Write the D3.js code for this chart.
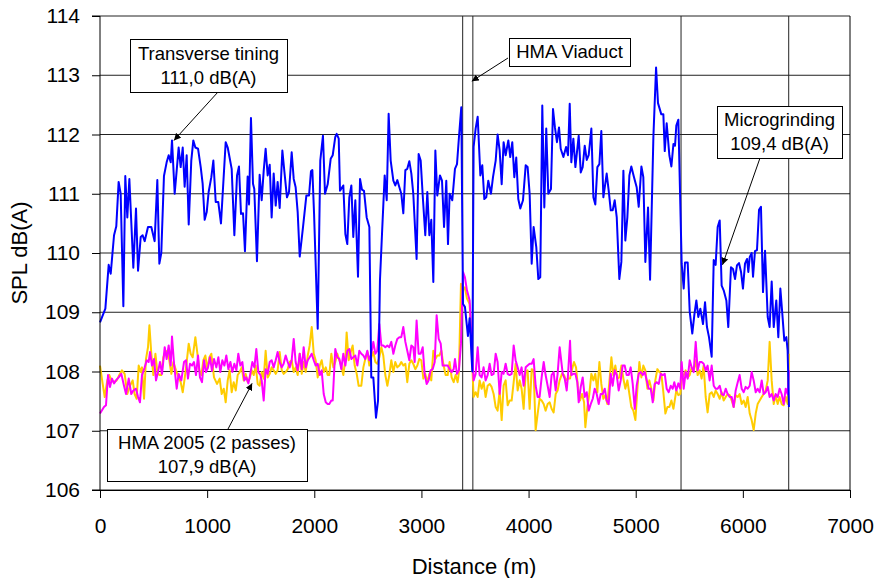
<!DOCTYPE html>
<html>
<head>
<meta charset="utf-8">
<script src="https://cdn.jsdelivr.net/npm/d3@7"></script>
<style>
  body { margin: 0; background: #fff; }
  svg text { font-family: "Liberation Sans", Arial, sans-serif; fill: #000; }
</style>
</head>
<body>
<div id="chart"></div>
<script>
// SPL along the road, [distance (m), dB(A)]
var transverseTining = [
  [0,108.83],[50,109.06],[81,109.8],[100,109.65],[131,110.3],[152,110.45],[174,111.2],[193,111.0],[218,109.1],[236,111.3],[255,110.6],[274,111.25],[311,109.75],[336,110.75],[355,109.7],[380,110.27],[398,110.3],[417,110.2],[448,110.44],[479,110.44],[510,110.2],[535,111.23],[554,109.82],[572,110.0],[597,111.3],[622,111.53],[641,111.65],[660,111.53],[672,111.9],[697,111.0],[716,111.4],[734,111.78],[753,111.45],[772,111.78],[790,111.12],[809,111.65],[828,110.48],[852,111.56],[871,111.9],[890,111.78],[915,111.76],[940,111.45],[958,111.17],[977,110.56],[996,110.69],[1014,111.03],[1039,111.28],[1058,111.56],
  [1080,110.86],[1104,110.86],[1129,110.5],[1173,111.87],[1192,111.78],[1229,111.42],[1254,110.3],[1279,111.31],[1297,111.46],[1316,110.66],[1335,110.67],[1353,110.03],[1378,111.29],[1391,110.82],[1409,112.28],[1428,111.17],[1440,111.08],[1465,109.86],[1490,111.32],[1509,110.89],[1528,111.39],[1546,111.76],[1565,111.31],[1584,111.49],[1602,110.6],[1621,111.34],[1640,110.8],[1658,111.2],[1677,110.76],[1702,111.73],[1720,111.39],[1745,110.94],[1764,111.03],[1789,111.7],[1808,111.25],[1826,111.11],[1845,110.69],[1864,109.94],[1895,110.44],[1926,110.97],[1951,110.97],[1969,111.38],[1982,111.4],[1998,110.66],[2032,108.72],[2056,111.56],[2081,111.98],[2100,111.0],[2125,111.16],
  [2153,111.59],[2172,111.65],[2196,111.96],[2209,112.01],[2228,111.93],[2240,111.05],[2271,111.14],[2290,110.32],[2308,110.15],[2327,110.94],[2346,111.14],[2364,110.27],[2383,110.89],[2408,109.6],[2427,111.25],[2445,111.07],[2464,111.05],[2489,110.6],[2514,110.44],[2532,107.9],[2551,107.9],[2576,107.22],[2595,107.51],[2613,109.54],[2632,110.32],[2657,111.31],[2676,110.89],[2694,112.35],[2713,111.56],[2738,111.22],[2756,111.14],[2775,111.23],[2794,111.11],[2812,111.0],[2831,110.67],[2850,111.4],[2868,111.42],[2887,111.55],[2906,111.34],[2924,111.0],[2955,109.9],[2974,111.67],[2993,111.56],[3012,110.97],[3036,110.3],[3055,111.03],[3074,110.3],[3092,110.56],[3111,109.51],[3130,111.73],[3148,110.97],[3173,111.31],[3192,111.22],[3211,110.44],
  [3232,111.22],[3248,110.15],[3263,111.0],[3288,110.89],[3313,111.42],[3332,111.5],[3350,111.95],[3372,112.46],[3388,109.14],[3406,109.09],[3434,108.6],[3450,108.9],[3475,108.0],[3487,111.79],[3506,112.1],[3525,112.3],[3550,111.31],[3568,111.48],[3587,110.91],[3605,110.94],[3624,111.22],[3649,111.0],[3668,111.28],[3693,111.56],[3711,112.0],[3730,111.73],[3749,111.16],[3767,111.87],[3786,111.65],[3811,111.9],[3829,111.62],[3848,111.87],[3867,111.28],[3885,111.61],[3904,110.91],[3923,110.75],[3948,110.89],[3973,111.48],[3991,111.45],[4010,111.0],[4029,109.82],[4047,110.44],[4072,110.1],[4091,109.56],[4109,109.59],[4128,112.49],[4147,110.77],[4165,112.1],[4184,111.0],[4209,111.08],[4228,112.43],[4246,112.12],[4265,111.87],[4284,112.12],
  [4300,111.76],[4325,111.62],[4350,111.79],[4368,111.65],[4384,112.52],[4399,111.53],[4418,111.93],[4437,111.45],[4468,111.98],[4487,111.36],[4505,111.45],[4524,111.81],[4543,111.57],[4561,111.65],[4586,112.1],[4605,110.94],[4623,110.82],[4642,111.45],[4661,111.5],[4679,112.06],[4698,110.94],[4729,111.34],[4748,111.05],[4767,110.72],[4785,110.72],[4804,110.89],[4823,110.6],[4847,109.56],[4866,109.85],[4885,111.39],[4903,110.21],[4922,110.6],[4941,111.31],[4959,111.46],[4984,111.28],[5009,111.11],[5028,110.78],[5053,111.46],[5071,111.28],[5090,109.85],[5115,110.77],[5134,109.55],[5165,111.96],[5190,113.13],[5208,112.53],[5239,112.34],[5258,112.34],[5271,111.72],[5289,112.19],[5314,111.65],[5333,111.46],[5352,111.84],
  [5367,111.81],[5379,112.15],[5398,112.25],[5429,109.82],[5448,109.4],[5460,109.84],[5485,109.84],[5504,109.01],[5528,108.64],[5547,108.95],[5566,109.2],[5584,108.92],[5603,109.06],[5628,108.8],[5647,109.17],[5665,108.75],[5684,108.58],[5709,108.25],[5728,109.88],[5746,109.8],[5765,110.44],[5784,110.55],[5802,109.45],[5821,109.37],[5846,109.2],[5864,108.75],[5889,109.76],[5908,109.73],[5927,109.56],[5945,109.79],[5964,109.83],[5983,109.68],[6001,109.4],[6020,109.82],[6039,109.9],[6051,109.68],[6064,109.93],[6082,110.0],[6095,109.6],[6113,110.03],[6132,110.05],[6151,110.73],[6169,110.78],[6188,109.34],[6207,110.04],[6232,108.92],[6250,108.75],[6269,109.52],[6288,108.75],[6312,109.2],[6331,108.58],[6350,109.4],[6368,108.98],[6387,108.52],[6406,108.58],[6418,108.35],[6430,107.4]
];

var hmaMagenta = [
  [0,107.29],[37,107.4],[56,107.43],[75,107.94],[93,107.74],[112,107.88],[131,107.8],[149,107.85],[174,107.9],[199,107.96],[224,107.76],[243,107.62],[268,107.88],[292,107.62],[311,107.68],[336,107.71],[355,107.57],[373,107.48],[392,107.94],[417,108.07],[436,108.19],[454,108.16],[467,108.33],[485,108.1],[504,108.21],[523,107.85],[541,107.99],[560,108.16],[579,107.96],[604,108.41],[622,108.21],[641,108.44],[660,108.1],[672,108.59],[691,108.13],[716,107.71],[734,107.96],[759,107.85],[784,108.16],[803,108.19],[821,107.88],[840,108.13],[859,108.1],[877,108.16],[896,107.94],[915,108.27],[933,107.9],[952,107.82],[971,108.19],[989,107.99],[1008,108.07],[1027,108.24],[1045,108.01],[1064,108.21],
  [1086,108.07],[1105,108.24],[1123,107.99],[1142,108.19],[1161,108.1],[1179,108.27],[1198,108.04],[1217,108.16],[1235,107.99],[1254,108.13],[1273,108.02],[1291,108.3],[1310,108.1],[1329,108.16],[1347,107.85],[1366,107.9],[1385,107.8],[1403,107.96],[1422,108.16],[1441,108.07],[1459,108.38],[1478,107.99],[1497,107.94],[1509,107.85],[1528,107.51],[1546,108.04],[1565,107.96],[1584,108.16],[1602,108.19],[1621,108.07],[1640,108.19],[1658,108.33],[1677,108.16],[1696,108.07],[1714,108.13],[1733,108.27],[1752,108.16],[1770,108.07],[1789,108.19],[1808,108.55],[1826,108.16],[1845,108.02],[1864,108.3],[1883,108.04],[1901,108.41],[1920,108.07],[1939,108.19],[1957,108.24],[1976,108.3],[1995,108.19],[2013,108.1],[2032,108.13],[2051,107.94],[2069,108.02],[2088,107.62],[2107,107.48],[2125,107.45],
  [2140,107.45],[2159,107.51],[2172,107.51],[2196,108.38],[2215,108.24],[2234,108.21],[2252,108.04],[2271,108.3],[2290,108.1],[2308,108.35],[2327,108.38],[2346,108.21],[2364,108.24],[2383,108.27],[2402,108.1],[2420,108.35],[2439,108.3],[2458,108.27],[2476,108.21],[2495,108.35],[2514,108.19],[2532,108.3],[2551,108.5],[2570,108.3],[2588,108.35],[2607,108.8],[2626,108.44],[2644,108.44],[2663,108.41],[2682,108.44],[2700,108.41],[2719,108.5],[2738,108.3],[2756,108.44],[2775,108.55],[2794,108.58],[2812,108.58],[2831,108.75],[2850,108.5],[2868,108.35],[2887,108.19],[2906,108.44],[2924,108.41],[2937,108.16],[2955,108.86],[2974,108.3],[2993,108.3],[3012,108.41],[3030,107.96],[3049,107.79],[3067,107.85],[3086,108.02],[3105,108.04],[3124,108.16],[3142,108.95],[3161,108.55],[3180,108.47],[3198,108.1],
  [3226,108.1],[3245,108.1],[3263,108.04],[3282,107.99],[3301,108.04],[3313,108.21],[3332,107.96],[3350,108.02],[3369,108.47],[3388,109.68],[3406,109.59],[3425,109.37],[3450,109.2],[3469,108.47],[3487,107.85],[3506,107.96],[3525,108.41],[3543,107.94],[3562,107.9],[3580,108.07],[3599,107.85],[3618,107.94],[3637,108.13],[3655,107.94],[3674,107.96],[3693,108.3],[3711,108.16],[3730,107.62],[3749,107.99],[3767,107.96],[3786,108.13],[3805,107.96],[3823,107.94],[3842,107.96],[3861,108.44],[3879,108.19],[3898,108.07],[3917,107.94],[3935,108.07],[3954,107.76],[3973,108.07],[3991,108.1],[4010,108.13],[4029,108.13],[4047,108.21],[4066,107.76],[4085,107.57],[4103,107.57],[4122,107.9],[4141,108.16],[4159,107.94],[4178,107.76],[4197,107.57],[4215,107.94],[4234,107.99],[4253,107.68],[4271,107.96],[4290,108.41],
  [4319,107.96],[4337,107.88],[4356,107.68],[4368,107.94],[4387,108.52],[4399,107.94],[4418,107.96],[4437,107.96],[4455,107.82],[4468,107.48],[4487,107.74],[4505,107.9],[4524,107.57],[4543,107.65],[4561,107.34],[4580,107.45],[4599,107.54],[4617,107.71],[4636,107.62],[4655,107.45],[4673,107.62],[4692,107.62],[4711,107.71],[4729,107.51],[4748,107.45],[4767,107.96],[4785,107.76],[4804,108.02],[4823,107.94],[4841,107.68],[4860,107.85],[4878,108.1],[4897,108.1],[4916,107.94],[4935,107.94],[4953,108.07],[4972,107.79],[4991,107.37],[5009,107.76],[5028,107.96],[5047,107.99],[5065,107.94],[5084,107.99],[5103,107.85],[5121,107.71],[5140,107.71],[5159,107.48],[5177,107.79],[5196,107.82],[5215,107.79],[5233,107.96],[5252,107.94],[5271,107.96],[5289,107.71],[5308,107.65],[5327,107.76],[5345,107.71],
  [5360,107.82],[5379,107.68],[5398,107.8],[5416,107.71],[5429,108.16],[5448,107.71],[5466,107.99],[5485,107.88],[5504,108.19],[5522,108.07],[5541,107.99],[5560,108.5],[5578,108.02],[5597,108.16],[5615,108.16],[5634,108.13],[5653,108.02],[5671,108.1],[5690,107.85],[5709,108.1],[5728,107.76],[5746,107.71],[5765,107.71],[5784,107.76],[5802,107.62],[5821,107.6],[5840,107.71],[5858,107.62],[5877,107.57],[5896,107.57],[5914,107.4],[5933,107.68],[5952,107.82],[5970,107.94],[5989,107.71],[6008,107.65],[6026,107.74],[6045,107.71],[6064,107.76],[6082,107.99],[6101,107.85],[6120,107.65],[6138,107.71],[6157,107.65],[6176,107.85],[6194,107.62],[6213,107.65],[6232,107.74],[6250,107.57],[6269,107.62],[6288,107.51],[6306,107.62],[6325,107.57],[6343,107.71],[6362,107.62],[6381,107.45],[6400,107.71],[6418,107.62],[6430,108.02]
];

var hmaYellow = [
  [0,108.1],[25,107.79],[44,107.57],[68,107.85],[87,107.94],[106,107.85],[131,107.82],[156,107.85],[180,107.94],[205,108.02],[230,107.96],[255,107.62],[280,107.76],[305,107.85],[323,107.62],[342,107.54],[361,108.1],[380,107.99],[392,108.07],[411,107.54],[429,108.21],[448,108.41],[461,108.78],[479,108.3],[498,107.94],[517,108.3],[535,107.99],[554,107.94],[572,107.94],[591,108.24],[610,108.33],[629,108.35],[647,108.19],[666,107.96],[685,108.16],[709,108.02],[734,107.9],[753,107.82],[772,107.65],[790,107.88],[809,108.16],[828,108.47],[846,108.3],[865,108.24],[890,108.58],[909,108.3],[927,108.02],[946,107.94],[965,108.19],[983,108.27],[1002,108.04],[1021,108.24],[1039,108.3],[1064,107.9],
  [1092,107.79],[1117,107.88],[1136,107.62],[1155,107.71],[1173,107.48],[1192,107.85],[1210,108.02],[1229,107.65],[1248,107.82],[1267,107.68],[1285,107.94],[1304,107.99],[1323,108.07],[1341,107.85],[1360,107.96],[1379,107.82],[1397,107.88],[1416,108.02],[1435,107.94],[1453,108.1],[1472,107.79],[1490,107.76],[1509,107.99],[1528,107.88],[1546,108.35],[1565,107.9],[1584,107.96],[1602,108.07],[1621,108.02],[1640,107.96],[1658,108.02],[1677,108.33],[1696,108.02],[1714,107.96],[1733,107.99],[1752,108.04],[1770,108.16],[1789,108.19],[1808,107.99],[1826,108.07],[1845,107.94],[1864,108.3],[1883,107.96],[1901,108.16],[1920,107.99],[1939,108.27],[1957,108.44],[1976,108.75],[1995,108.3],[2013,108.19],[2032,107.9],[2051,108.1],[2069,108.19],[2088,107.99],[2107,108.07],[2125,107.94],
  [2140,107.94],[2159,108.3],[2178,108.07],[2196,108.16],[2215,108.3],[2234,108.19],[2252,108.1],[2271,107.94],[2290,108.21],[2302,108.66],[2321,108.19],[2340,108.33],[2358,108.44],[2377,108.1],[2396,107.96],[2414,107.76],[2439,107.76],[2458,108.07],[2476,108.21],[2495,108.33],[2514,108.1],[2532,108.24],[2551,108.33],[2570,108.16],[2588,108.13],[2607,108.24],[2626,108.41],[2644,108.27],[2663,107.94],[2682,107.76],[2700,107.94],[2719,108.19],[2738,107.99],[2756,108.16],[2775,108.07],[2794,108.1],[2812,108.16],[2831,108.1],[2850,108.13],[2868,107.82],[2887,108.13],[2906,108.19],[2924,108.13],[2943,108.04],[2962,108.1],[2980,108.21],[2999,108.19],[3018,107.88],[3036,107.96],[3055,107.82],[3074,107.96],[3092,107.85],[3111,108.35],[3130,108.21],[3148,108.27],[3167,108.27],[3186,108.35],[3204,108.13],
  [3226,107.94],[3245,107.94],[3263,108.16],[3282,107.9],[3301,107.82],[3319,107.94],[3338,107.82],[3350,107.99],[3369,109.48],[3388,109.37],[3406,109.42],[3425,109.23],[3450,109.14],[3469,108.35],[3487,107.57],[3506,107.65],[3525,107.57],[3543,107.85],[3562,107.71],[3580,107.82],[3599,107.57],[3618,107.76],[3637,107.79],[3655,107.74],[3674,107.62],[3693,107.4],[3711,107.34],[3730,107.68],[3749,107.18],[3767,107.76],[3786,107.85],[3805,107.43],[3823,107.51],[3842,107.51],[3861,107.82],[3879,108.13],[3898,107.68],[3917,107.85],[3935,107.71],[3954,107.37],[3973,107.99],[3991,108.02],[4010,107.37],[4029,108.04],[4047,108.02],[4066,107.01],[4085,107.29],[4103,107.54],[4122,107.51],[4141,107.45],[4159,107.34],[4178,107.45],[4197,107.48],[4215,107.37],[4234,107.31],[4253,107.62],[4271,107.68],[4290,107.85],
  [4312,107.96],[4331,107.94],[4350,107.85],[4368,107.88],[4387,107.88],[4406,108.04],[4424,108.16],[4443,108.07],[4462,107.71],[4480,107.51],[4499,107.62],[4518,107.48],[4530,107.06],[4549,107.4],[4567,107.62],[4586,107.96],[4605,107.85],[4623,107.96],[4642,107.65],[4661,108.16],[4679,107.79],[4698,107.54],[4717,107.6],[4735,107.45],[4754,107.82],[4773,108.24],[4791,107.94],[4810,108.1],[4829,107.88],[4847,107.9],[4866,108.1],[4885,107.88],[4903,107.71],[4922,107.85],[4941,107.62],[4959,107.4],[4978,107.34],[4997,107.18],[5015,107.68],[5034,108.16],[5053,107.9],[5071,108.1],[5090,108.02],[5109,107.71],[5127,107.85],[5146,107.71],[5165,107.51],[5183,107.85],[5202,108.04],[5221,107.99],[5239,107.96],[5258,107.65],[5277,107.29],[5296,107.4],[5314,107.4],[5333,107.51],[5352,107.37],
  [5379,107.68],[5398,107.6],[5416,107.62],[5429,107.88],[5448,107.94],[5466,108.02],[5485,107.9],[5504,107.94],[5522,108.07],[5541,108.02],[5560,108.19],[5578,107.94],[5597,108.02],[5615,107.88],[5634,108.1],[5653,107.57],[5671,107.31],[5690,107.62],[5709,107.65],[5728,107.57],[5746,107.68],[5765,107.62],[5784,107.54],[5802,107.65],[5821,107.51],[5840,107.57],[5858,107.62],[5877,107.6],[5896,107.51],[5914,107.4],[5933,107.6],[5952,107.57],[5970,107.62],[5989,107.45],[6008,107.51],[6026,107.4],[6045,107.57],[6064,107.29],[6082,107.18],[6101,107.01],[6120,107.29],[6138,107.45],[6157,107.51],[6176,107.57],[6194,107.62],[6213,107.68],[6232,107.85],[6250,108.5],[6269,107.85],[6288,107.45],[6306,107.6],[6325,107.45],[6343,107.57],[6362,107.45],[6381,107.43],[6400,107.57],[6418,107.45],[6430,108.3]
];

// section boundaries (m)
var sectionLines = [3385, 3480, 5423, 6428];
var yTicks = [106, 107, 108, 109, 110, 111, 112, 113, 114];
var xTicks = [0, 1000, 2000, 3000, 4000, 5000, 6000, 7000];

var margin = {top: 16, right: 26, bottom: 88, left: 100},
    width = 876 - margin.left - margin.right,
    height = 578 - margin.top - margin.bottom;

var x = d3.scaleLinear().domain([0, 7000]).range([0, width]);
var y = d3.scaleLinear().domain([106, 114]).range([height, 0]);

var svg = d3.select("#chart").append("svg")
    .attr("width", 876)
    .attr("height", 578);

var defs = svg.append("defs");
defs.append("marker")
    .attr("id", "arrow")
    .attr("viewBox", "0 0 10 10")
    .attr("refX", 10).attr("refY", 5)
    .attr("markerWidth", 7).attr("markerHeight", 7)
    .attr("markerUnits", "userSpaceOnUse")
    .attr("orient", "auto")
  .append("path")
    .attr("d", "M0,0L10,5L0,10z")
    .attr("fill", "#000");

var g = svg.append("g")
    .attr("transform", "translate(" + margin.left + "," + margin.top + ")");

// horizontal gridlines
g.selectAll(".hgrid")
    .data(yTicks)
  .enter().append("line")
    .attr("class", "hgrid")
    .attr("x1", 0).attr("x2", width)
    .attr("y1", function(d) { return y(d); })
    .attr("y2", function(d) { return y(d); })
    .attr("stroke", "#222")
    .attr("stroke-width", 1);

// right border
g.append("line")
    .attr("x1", width).attr("x2", width)
    .attr("y1", 0).attr("y2", height)
    .attr("stroke", "#000");

// section lines
g.selectAll(".vline")
    .data(sectionLines)
  .enter().append("line")
    .attr("class", "vline")
    .attr("x1", function(d) { return x(d); })
    .attr("x2", function(d) { return x(d); })
    .attr("y1", 0).attr("y2", height)
    .attr("stroke", "#222")
    .attr("stroke-width", 1);

var line = d3.line()
    .x(function(d) { return x(d[0]); })
    .y(function(d) { return y(d[1]); });

var series = [
  {data: hmaYellow, color: "#FFCC00"},
  {data: hmaMagenta, color: "#FF00FF"},
  {data: transverseTining, color: "#0000FF"}
];

g.selectAll(".series")
    .data(series)
  .enter().append("path")
    .attr("class", "series")
    .attr("d", function(d) { return line(d.data); })
    .attr("fill", "none")
    .attr("stroke", function(d) { return d.color; })
    .attr("stroke-width", 2)
    .attr("stroke-linejoin", "round");

// axes
var yAxis = g.append("g")
    .call(d3.axisLeft(y).tickValues(yTicks).tickSize(8).tickPadding(12).tickFormat(d3.format("d")));
var xAxis = g.append("g")
    .attr("transform", "translate(0," + height + ")")
    .call(d3.axisBottom(x).tickValues(xTicks).tickSize(8).tickPadding(20).tickFormat(d3.format("d")));

[yAxis, xAxis].forEach(function(ax) {
  ax.selectAll("path, line").attr("stroke", "#000");
  ax.selectAll("text")
    .style("font-size", "21px")
    .style("font-family", "'Liberation Sans', Arial, sans-serif");
});
yAxis.select(".domain").attr("d", "M-8," + y(106) + "H0V" + y(114) + "H-8");

// axis titles
svg.append("text")
    .attr("x", 474)
    .attr("y", 574)
    .attr("text-anchor", "middle")
    .style("font-size", "22px")
    .text("Distance (m)");

svg.append("text")
    .attr("transform", "translate(27," + (margin.top + height / 2) + ") rotate(-90)")
    .attr("text-anchor", "middle")
    .style("font-size", "22px")
    .text("SPL dB(A)");

// annotations
var notes = [
  {lines: ["Transverse tining", "111,0 dB(A)"], box: [130, 39, 157, 53], from: [218, 92], to: [x(690) + margin.left, y(111.9) + margin.top]},
  {lines: ["HMA Viaduct"], box: [509, 38, 121, 28], from: [508, 58], to: [x(3470) + margin.left, y(112.9) + margin.top]},
  {lines: ["Microgrinding", "109,4 dB(A)"], box: [717, 106, 125, 52], from: [760, 158], to: [x(5810) + margin.left, y(109.8) + margin.top]},
  {lines: ["HMA 2005 (2 passes)", "107,9 dB(A)"], box: [107, 429, 200, 52], from: [228, 429], to: [x(1420) + margin.left, y(107.8) + margin.top]}
];

notes.forEach(function(n) {
  svg.append("line")
      .attr("x1", n.from[0]).attr("y1", n.from[1])
      .attr("x2", n.to[0]).attr("y2", n.to[1])
      .attr("stroke", "#000").attr("stroke-width", 1)
      .attr("marker-end", "url(#arrow)");
  svg.append("rect")
      .attr("x", n.box[0] + 0.5).attr("y", n.box[1] + 0.5)
      .attr("width", n.box[2]).attr("height", n.box[3])
      .attr("fill", "#fff").attr("stroke", "#000").attr("stroke-width", 1);
  var cx = n.box[0] + n.box[2] / 2;
  var top = n.box[1] + (n.box[3] - n.lines.length * 24) / 2;
  n.lines.forEach(function(t, i) {
    svg.append("text")
        .attr("x", cx)
        .attr("y", top + 18 + i * 24)
        .attr("text-anchor", "middle")
        .style("font-size", "18.5px")
        .text(t);
  });
});
</script>
</body>
</html>
